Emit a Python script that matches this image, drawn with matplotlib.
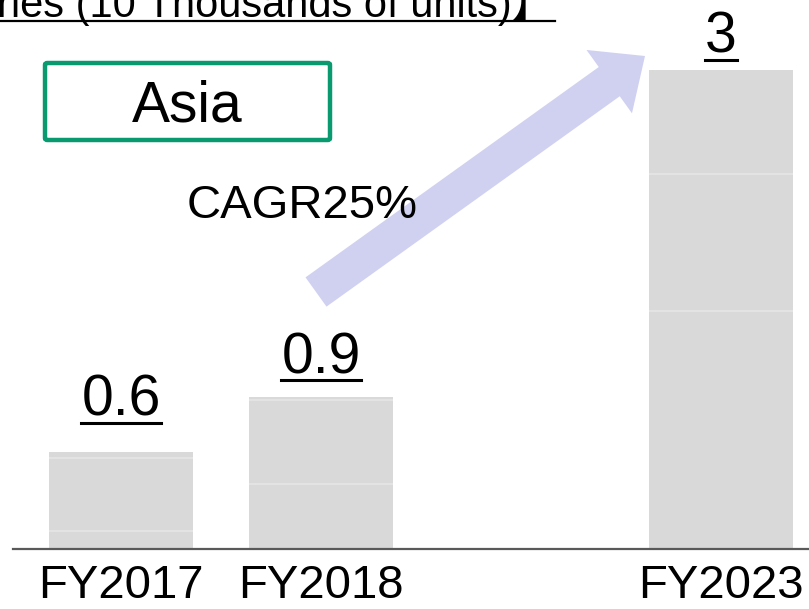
import matplotlib
matplotlib.use("Agg")
import matplotlib.pyplot as plt
from matplotlib.patches import FancyArrow, FancyBboxPatch
from matplotlib.lines import Line2D
from matplotlib.transforms import IdentityTransform

plt.rcParams['font.family'] = ['Liberation Sans', 'Noto Sans CJK JP', 'DejaVu Sans']

# data (10 thousands of units), bars are stacked from three segments
years = ["FY2017", "FY2018", "FY2023"]
xpos = [0, 1, 3]
seg_bottom = [0.11, 0.41, 1.49]
seg_mid = [0.46, 0.52, 0.86]
seg_top = [0.04, 0.02, 0.65]
value_labels = ["0.6", "0.9", "3"]
label_pad = [36, 24, 17]   # px above bar top

W, H = 809, 609
fig = plt.figure(figsize=(W / 100, H / 100), dpi=100)
ax = fig.add_axes([13 / W, 60 / H, 1 - 13 / W, 1 - 60 / H])

bar_color = "#d9d9d9"
sep_color = "#e6e6e6"
bw = 0.72
ax.bar(xpos, seg_bottom, width=bw, color=bar_color, linewidth=0)
b2 = [a + b for a, b in zip(seg_bottom, seg_mid)]
ax.bar(xpos, seg_mid, width=bw, bottom=seg_bottom, color=bar_color, linewidth=0)
ax.bar(xpos, seg_top, width=bw, bottom=b2, color=bar_color, linewidth=0)
totals = [a + b for a, b in zip(b2, seg_top)]
for x, y1, y2 in zip(xpos, seg_bottom, b2):
    ax.hlines([y1, y2], x - bw / 2, x + bw / 2, color=sep_color, lw=1.2)

ax.set_xlim(-0.54, 3.44)
ax.set_ylim(0, 549 / 159.7)
for s in ["top", "right", "left"]:
    ax.spines[s].set_visible(False)
ax.spines["bottom"].set_color("#595959")
ax.spines["bottom"].set_linewidth(1.6)
ax.set_yticks([])
ax.set_xticks(xpos)
ax.set_xticklabels(years, fontsize=34)
ax.tick_params(axis='x', length=0, pad=10.5)

def px(x, y):
    return x / W, 1 - y / H

fig.canvas.draw()
renderer = fig.canvas.get_renderer()

# value labels with underline
for x, tot, lab, pad in zip(xpos, totals, value_labels, label_pad):
    base = ax.transData.transform((x, tot))[1] + pad
    yd = ax.transData.inverted().transform((0, base))[1]
    t = ax.text(x, yd, lab, fontsize=41, ha='center', va='baseline')
    bb = t.get_window_extent(renderer)
    fig.add_artist(Line2D([bb.x0, bb.x1], [base - 7, base - 7], color='black',
                          lw=2.2, transform=IdentityTransform()))

# title (cut at top, as in the source slide)
t = fig.text(553 / W, 1 - 17 / H, "【Deliveries (10 Thousands of units)】", fontsize=30,
             ha='right', va='baseline')
fig.add_artist(Line2D([0, 555 / W], [1 - 21 / H, 1 - 21 / H], color='black', lw=1.6,
                      transform=fig.transFigure))

# Asia box
x0, y0 = px(45, 140)
x1, y1 = px(330, 63)
box = FancyBboxPatch((x0, y0), x1 - x0, y1 - y0, boxstyle="round,pad=0,rounding_size=0.003",
                     transform=fig.transFigure, facecolor='white', edgecolor='#0a9a70', lw=3.2)
fig.add_artist(box)
fig.text(*px(187, 122), "Asia", fontsize=41, ha='center', va='baseline')

# CAGR arrow
tail = (316, H - 292)
tip = (645, H - 56)
arr = FancyArrow(tail[0], tail[1], tip[0] - tail[0], tip[1] - tail[1], width=36,
                 head_width=78, head_length=44, length_includes_head=True,
                 color='#d0d1f1', linewidth=0, transform=IdentityTransform(), zorder=3)
fig.add_artist(arr)
fig.text(*px(187, 218), "CAGR25%", fontsize=34, ha='left', va='baseline', zorder=5)

fig.savefig("out.png", dpi=100)
